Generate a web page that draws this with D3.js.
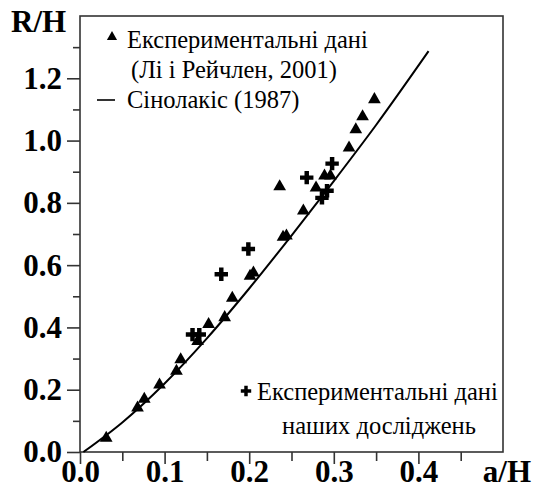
<!DOCTYPE html>
<html>
<head>
<meta charset="utf-8">
<script src="https://cdn.jsdelivr.net/npm/d3@7/dist/d3.min.js"></script>
<style>
	body { margin:0; background:#fff; }
	svg text { font-family:"Liberation Serif","Times New Roman",serif; fill:#000; }
	.tick-label { font-weight:bold; font-size:31px; }
	.axis-title { font-weight:bold; font-size:31px; }
	.legend { font-size:24.5px; }
</style>
</head>
<body>
<svg id="chart"></svg>
<script>
/*************** data *****************/
// Li & Raichlen (2001) experiments
var liX = [0.031,0.068,0.076,0.094,0.114,0.119,0.139,0.152,0.171,0.180,0.201,0.205,
	0.236,0.240,0.244,0.264,0.279,0.289,0.296,0.318,0.326,0.334,0.348];
var liY = [0.045,0.142,0.170,0.216,0.260,0.297,0.355,0.410,0.432,0.494,0.565,0.575,
	0.852,0.690,0.694,0.774,0.848,0.887,0.887,0.977,1.035,1.077,1.132];

// our experiments
var ourX = [0.133,0.141,0.167,0.199,0.268,0.286,0.292,0.298];
var ourY = [0.377,0.377,0.571,0.652,0.881,0.816,0.839,0.926];

// Synolakis (1987) curve
var synX = [0.004,0.050,0.100,0.150,0.200,0.250,0.300,0.350,0.412];
var synY = [0.000,0.095,0.220,0.365,0.525,0.695,0.870,1.050,1.287];

var xTicks = [0,0.1,0.2,0.3,0.4];
var yTicks = [0,0.2,0.4,0.6,0.8,1.0,1.2];

/*************** settings *****************/
var width = 534,
	height = 491,
	margin = {left:80, right:503, top:16, bottom:452}; // plot box edges in px

var svg = d3.select("#chart")
	.attr("width",width)
	.attr("height",height)
	.attr("font-family","Liberation Serif");

var xScale = d3.scaleLinear().domain([0,0.5]).range([margin.left,margin.right]);
var yScale = d3.scaleLinear().domain([0,1.4]).range([margin.bottom,margin.top]);

/*************** frame and ticks *****************/
svg.append("rect")
	.attr("x",margin.left).attr("y",margin.top)
	.attr("width",margin.right-margin.left).attr("height",margin.bottom-margin.top)
	.attr("fill","none").attr("stroke","#333").attr("stroke-width",1.6);

// minor ticks
svg.append("g")
	.attr("transform","translate(0,"+margin.bottom+")")
	.call(d3.axisBottom(xScale).tickValues(d3.range(0.05,0.5,0.1)).tickSize(9).tickFormat(""))
	.call(function(g){ g.select(".domain").remove(); });

svg.append("g")
	.attr("transform","translate("+margin.left+",0)")
	.call(d3.axisLeft(yScale).tickValues(d3.range(0.1,1.4,0.2)).tickSize(7).tickFormat(""))
	.call(function(g){ g.select(".domain").remove(); });

// major ticks
var xAxis = svg.append("g")
	.attr("transform","translate(0,"+margin.bottom+")")
	.call(d3.axisBottom(xScale).tickValues(xTicks).tickSize(12).tickFormat(d3.format(".1f")));
xAxis.select(".domain").remove();
xAxis.attr("font-family",null).attr("font-size",null);
xAxis.selectAll("text").attr("class","tick-label").attr("y",30).attr("dy",null);

var yAxis = svg.append("g")
	.attr("transform","translate("+margin.left+",0)")
	.call(d3.axisLeft(yScale).tickValues(yTicks).tickSize(13).tickPadding(5).tickFormat(d3.format(".1f")));
yAxis.select(".domain").remove();
yAxis.attr("font-family",null).attr("font-size",null);
yAxis.selectAll("text").attr("class","tick-label");

svg.selectAll(".tick line").attr("stroke","#333").attr("stroke-width",1.6);

svg.append("text").attr("class","axis-title")
	.attr("x",11).attr("y",32).text("R/H");
svg.append("text").attr("class","axis-title")
	.attr("x",531).attr("y",482).attr("text-anchor","end").text("a/H");

/*************** curve *****************/
var line = d3.line()
	.x(function(d){ return xScale(d[0]); })
	.y(function(d){ return yScale(d[1]); })
	.curve(d3.curveMonotoneX);

svg.append("path")
	.datum(d3.zip(synX,synY))
	.attr("d",line)
	.attr("fill","none")
	.attr("stroke","#000")
	.attr("stroke-width",2);

/*************** markers *****************/
var tri = d3.symbol().type(d3.symbolTriangle).size(70);
var cross = d3.symbol().type(d3.symbolCross).size(100);

svg.append("g").selectAll("path")
	.data(d3.zip(liX,liY))
	.join("path")
	.attr("transform",function(d){ return "translate("+xScale(d[0])+","+yScale(d[1])+")"; })
	.attr("d",tri)
	.attr("fill","#000");

svg.append("g").selectAll("path")
	.data(d3.zip(ourX,ourY))
	.join("path")
	.attr("transform",function(d){ return "translate("+xScale(d[0])+","+yScale(d[1])+")"; })
	.attr("d",cross)
	.attr("fill","#000");

/*************** legends *****************/
svg.append("path")
	.attr("transform","translate(112,37)")
	.attr("d",d3.symbol().type(d3.symbolTriangle).size(45))
	.attr("fill","#000");
svg.append("text").attr("class","legend").attr("x",127).attr("y",48).text("Експериментальні дані");
svg.append("text").attr("class","legend").attr("x",131).attr("y",78).text("(Лі і Рейчлен, 2001)");
svg.append("line")
	.attr("x1",97).attr("x2",115).attr("y1",100).attr("y2",100)
	.attr("stroke","#000").attr("stroke-width",1.6);
svg.append("text").attr("class","legend").attr("x",127).attr("y",108).text("Сінолакіс (1987)");

svg.append("path")
	.attr("transform","translate(246,391)")
	.attr("d",d3.symbol().type(d3.symbolCross).size(60))
	.attr("fill","#000");
svg.append("text").attr("class","legend").attr("x",257).attr("y",400).text("Експериментальні дані");
svg.append("text").attr("class","legend").attr("x",379).attr("y",434).attr("text-anchor","middle").text("наших досліджень");
</script>
</body>
</html>
